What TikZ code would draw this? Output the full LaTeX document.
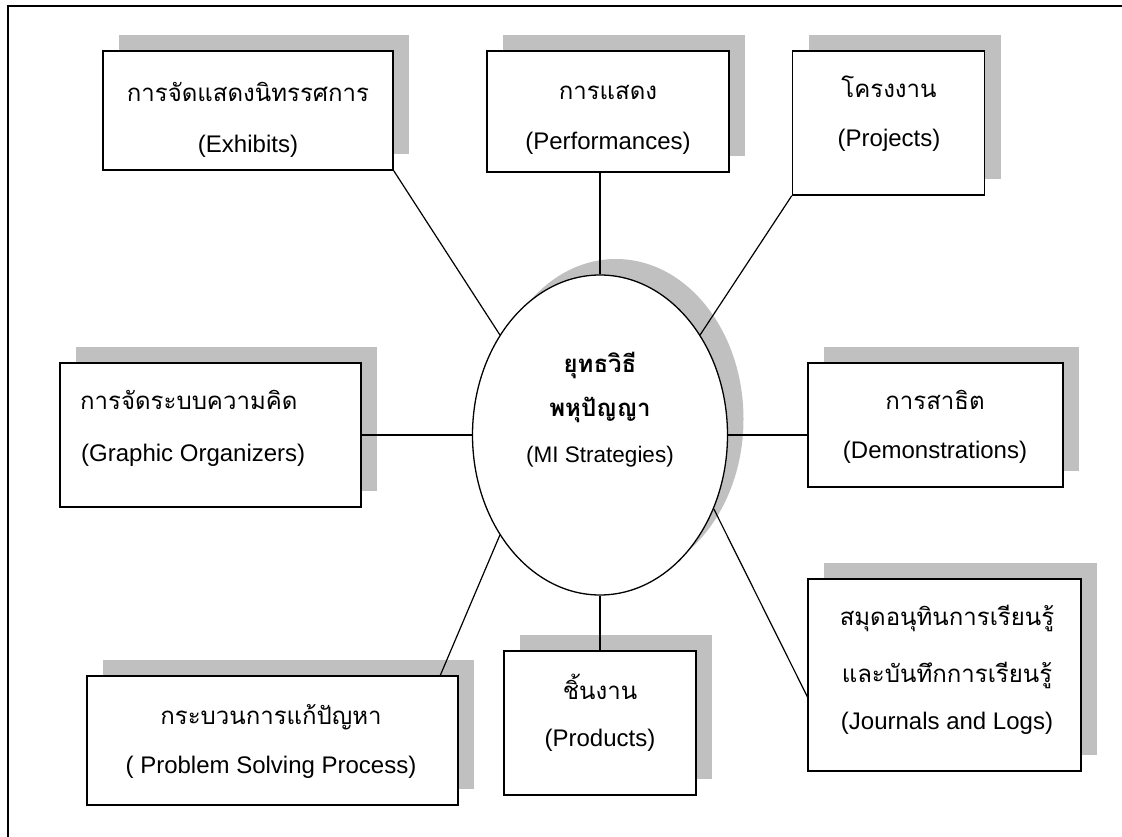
\documentclass[tikz,border=0pt]{standalone}
\usepackage{fontspec}
\setmainfont{Liberation Sans}
\newfontfamily\thaifont[Script=Thai]{Loma}
\usetikzlibrary{shapes.geometric,shadows}
\definecolor{shadowgray}{HTML}{C0C0C0}
\tikzset{
  boxnode/.style={draw=black, line width=1.5pt, fill=white, inner sep=0pt,
    general shadow={fill=shadowgray, shadow xshift=16pt, shadow yshift=16pt}},
  centernode/.style={ellipse, draw=black, line width=1.3pt, fill=white, inner sep=0pt,
    minimum width=255pt, minimum height=320pt,
    general shadow={fill=shadowgray, shadow xshift=16pt, shadow yshift=16pt}},
  conn/.style={draw=black, line width=1.2pt},
  th/.style={font=\thaifont\fontsize{24}{28}\selectfont, inner sep=0pt},
  en/.style={font=\fontsize{24}{28}\selectfont, inner sep=0pt},
  thb/.style={font=\thaifont\bfseries\fontsize{24}{28}\selectfont, inner sep=0pt},
  frameline/.style={draw=black, line width=1.4pt}
}
\begin{document}
\begin{tikzpicture}[x=1pt,y=-1pt]
\useasboundingbox (0,0) rectangle (1122,837);
\draw[frameline] (8,837) -- (8,6) -- (1122,6);

% boxes
\node[boxnode, minimum width=290pt, minimum height=119pt] (ex) at (248,110.5) {};
\node[boxnode, minimum width=242pt, minimum height=121pt] (pf) at (608,111.5) {};
\node[boxnode, minimum width=192pt, minimum height=144pt] (pj) at (888.5,123) {};
\node[boxnode, minimum width=301pt, minimum height=144pt] (go) at (210.5,435) {};
\node[boxnode, minimum width=255pt, minimum height=124pt] (dm) at (935.5,425) {};
\node[boxnode, minimum width=371pt, minimum height=129pt] (ps) at (272.5,740.5) {};
\node[boxnode, minimum width=192pt, minimum height=144pt] (pd) at (600,723) {};
\node[boxnode, minimum width=273pt, minimum height=192pt] (jl) at (944.5,675) {};
\node[centernode] (mi) at (600,435) {};

% texts
\node[th] (ex1) at (248,92) {การจัดแสดงนิทรรศการ};
\node[en] (ex2) at (248,146) {(Exhibits)};
\node[th] (pf1) at (608,92) {การแสดง};
\node[en] (pf2) at (608,143) {(Performances)};
\node[th] (pj1) at (889,87) {โครงงาน};
\node[en] (pj2) at (889,140) {(Projects)};
\node[th, anchor=west] (go1) at (80,400) {การจัดระบบความคิด};
\node[en, anchor=west] (go2) at (81,455) {(Graphic Organizers)};
\node[th] (dm1) at (935,400) {การสาธิต};
\node[en] (dm2) at (935,452) {(Demonstrations)};
\node[th] (ps1) at (271,717) {กระบวนการแก้ปัญหา};
\node[en] (ps2) at (271,767) {( Problem Solving Process)};
\node[th] (pd1) at (600,687) {ชิ้นงาน};
\node[en] (pd2) at (600,740) {(Products)};
\node[th] (jl1) at (947,618) {สมุดอนุทินการเรียนรู้};
\node[th] (jl2) at (947,675) {และบันทึกการเรียนรู้};
\node[en] (jl3) at (947,723) {(Journals and Logs)};
\node[thb] (mi1) at (600,365) {ยุทธวิธี};
\node[thb] (mi2) at (600,410) {พหุปัญญา};
\node[en, font=\fontsize{22.5}{26}\selectfont] (mi3) at (600,457) {(MI Strategies)};

% connector ends
\coordinate (psend) at (440,676);
\coordinate (jlend) at (808,698);

% connectors
\draw[conn] (ex.south east) -- (mi.135);
\draw[conn] (mi.north) -- (mi.north |- pf.south);
\draw[conn] (pj.south west) -- (mi.45);
\draw[conn] (go.east) -- (mi.west);
\draw[conn] (mi.east) -- (mi.east -| dm.west);
\draw[conn] (mi.south) -- (pd.north);
\draw[conn] (mi.225) -- (psend);
\draw[conn] (mi.-33) -- (jlend);
\end{tikzpicture}
\end{document}
